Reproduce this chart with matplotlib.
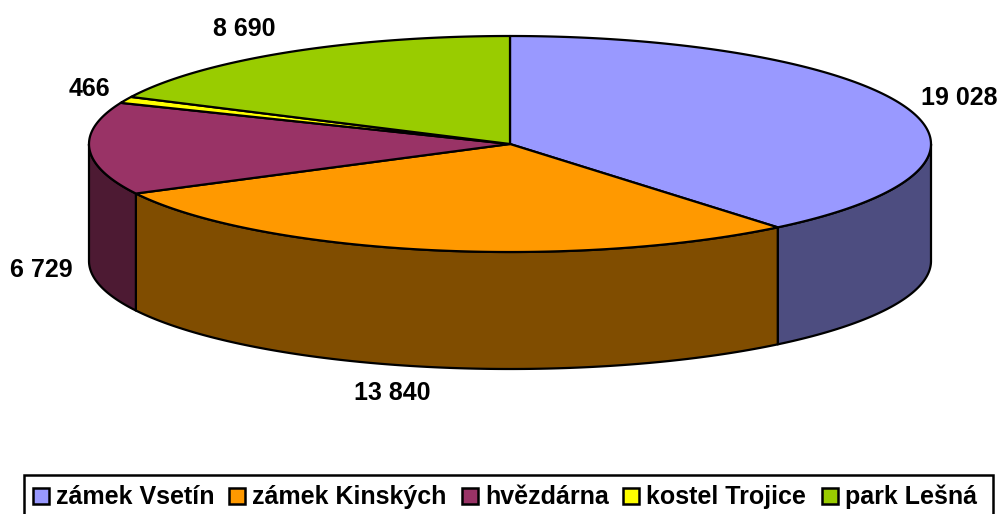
import numpy as np
import matplotlib
matplotlib.use("Agg")
import matplotlib.pyplot as plt
from matplotlib.colors import to_rgb
from matplotlib.patches import Polygon, Rectangle

labels = ["zámek Vsetín", "zámek Kinských", "hvězdárna", "kostel Trojice", "park Lešná"]
values = [19028, 13840, 6729, 466, 8690]
value_texts = ["19 028", "13 840", "6 729", "466", "8 690"]
colors = ["#9999FF", "#FF9900", "#993366", "#FFFF00", "#99CC00"]

plt.rcParams["font.family"] = ["Liberation Sans", "DejaVu Sans"]

# pie shape in pixels
cx, cy, rx, ry, depth = 510, 144, 421, 108, 117
label_pos = [(959, 98), (392, 393), (41, 270), (89, 89), (244, 29)]
legend_x = [33, 229, 462, 623, 822]

fig = plt.figure(figsize=(9.99, 5.14), dpi=100)
ax = fig.add_axes([0, 0, 1, 1])
ax.set_xlim(0, 999)
ax.set_ylim(514, 0)
ax.axis("off")


def arc(t0, t1, dy=0):
    t = np.radians(np.linspace(t0, t1, 200))
    return np.column_stack([cx + rx * np.sin(t), cy + dy - ry * np.cos(t)])


edges = np.concatenate([[0], np.cumsum(values)]) / sum(values) * 360

# side walls first
for i, c in enumerate(colors):
    t0 = max(edges[i], 90)
    t1 = min(edges[i + 1], 270)
    if t1 <= t0:
        continue
    dark = tuple(v * 0.5 for v in to_rgb(c))
    pts = np.vstack([arc(t0, t1), arc(t1, t0, depth)])
    ax.add_patch(Polygon(pts, closed=True, fc=dark, ec="black", lw=1.6, joinstyle="round"))

# top wedges
for i, c in enumerate(colors):
    pts = np.vstack([[(cx, cy)], arc(edges[i], edges[i + 1])])
    ax.add_patch(Polygon(pts, closed=True, fc=c, ec="black", lw=1.6, joinstyle="round"))

for txt, (x, y) in zip(value_texts, label_pos):
    ax.text(x, y, txt, fontsize=18, fontweight="bold", ha="center", va="center")

# legend box, bottom edge runs off the picture
ax.add_patch(Rectangle((24, 475), 969, 42, fc="white", ec="black", lw=1.8))
for name, c, x in zip(labels, colors, legend_x):
    ax.add_patch(Rectangle((x, 488), 16, 16, fc=c, ec="black", lw=1.8))
    ax.text(x + 23, 497, name, fontsize=18, fontweight="bold", ha="left", va="center")

fig.savefig("out.png", dpi=100)
